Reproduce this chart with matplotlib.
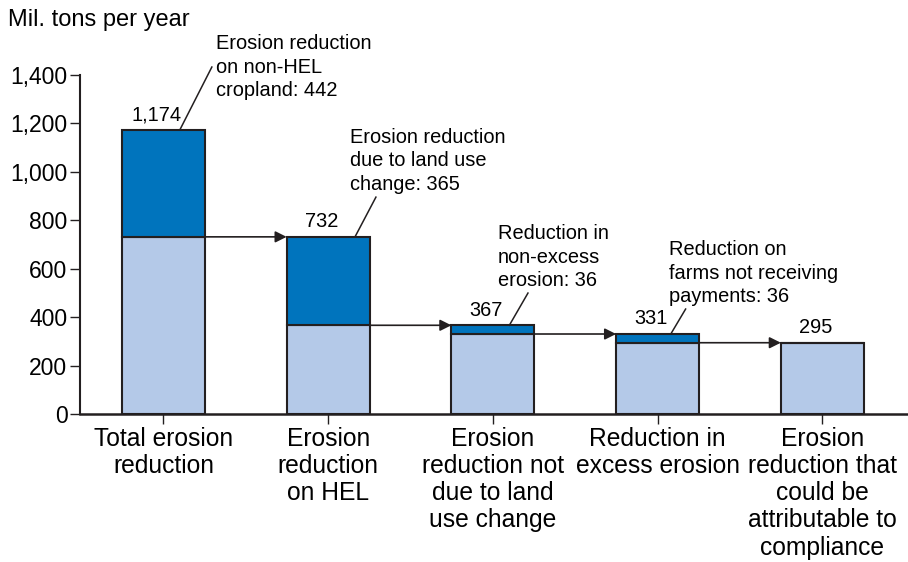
import matplotlib.pyplot as plt
from matplotlib.ticker import FuncFormatter

plt.rcParams['font.family'] = ['Liberation Sans', 'DejaVu Sans']

# Erosion reduction decomposition (mil. tons per year)
categories = ['Total erosion\nreduction', 'Erosion\nreduction\non HEL',
              'Erosion\nreduction not\ndue to land\nuse change',
              'Reduction in\nexcess erosion',
              'Erosion\nreduction that\ncould be\nattributable to\ncompliance']
totals = [1174, 732, 367, 331, 295]
removed = [442, 365, 36, 36, 0]
value_labels = ['1,174', '732', '367', '331', '295']
notes = ['Erosion reduction\non non-HEL\ncropland: 442',
         'Erosion reduction\ndue to land use\nchange: 365',
         'Reduction in\nnon-excess\nerosion: 36',
         'Reduction on\nfarms not receiving\npayments: 36']

dark = '#0074bd'
light = '#b4c9e8'
edge = '#231f20'

fig = plt.figure(figsize=(9.08, 5.62), dpi=100)
ax = fig.add_axes([0.088, 0.263, 0.912, 0.6035])

x = list(range(len(totals)))
base = [t - r for t, r in zip(totals, removed)]
w = 0.504
ax.bar(x, base, width=w, color=light, edgecolor=edge, linewidth=1.5, zorder=2)
ax.bar(x, removed, bottom=base, width=w, color=dark, edgecolor=edge,
       linewidth=1.5, zorder=2)

# value labels above bars
for i, (t, lab) in enumerate(zip(totals, value_labels)):
    ax.annotate(lab, xy=(i, t), xytext=(-5, 4), textcoords='offset points',
                ha='center', va='bottom', fontsize=14.4)

# arrows carrying the remaining part to the next bar
for i in range(len(totals) - 1):
    ax.annotate('', xy=(i + 1 - w / 2, totals[i + 1]), xytext=(i + w / 2, totals[i + 1]),
                arrowprops=dict(arrowstyle='-|>', color=edge, lw=1.2,
                                mutation_scale=17, shrinkA=0, shrinkB=0),
                zorder=3)

# leader lines and notes for the removed parts
leaders = [((0.10, 1174), (0.294, 1433)),
           ((1.163, 732), (1.29, 896)),
           ((2.10, 367), (2.213, 500)),
           ((3.08, 331), (3.17, 434))]
note_pos = [(0.319, 1568), (1.133, 1183), (2.031, 785), (3.07, 717)]
for (p0, p1), (tx, ty), txt in zip(leaders, note_pos, notes):
    ax.plot([p0[0], p1[0]], [p0[1], p1[1]], color=edge, lw=1.1, clip_on=False, zorder=3)
    ax.text(tx, ty, txt, ha='left', va='top', fontsize=14.4, linespacing=1.3)

ax.set_xlim(-0.507, 4.52)
ax.set_ylim(0, 1400)
ax.set_yticks(range(0, 1401, 200))
ax.yaxis.set_major_formatter(FuncFormatter(lambda v, p: f'{int(v):,}'))
ax.set_xticks(x)
ax.set_xticklabels(categories, fontsize=17.7, linespacing=1.17)
ax.tick_params(axis='y', labelsize=16.5, length=7, width=1.0, pad=2, color=edge)
ax.tick_params(axis='x', length=7, width=1.0, pad=2, color=edge)

for s in ['top', 'right']:
    ax.spines[s].set_visible(False)
ax.spines['left'].set_linewidth(1.5)
ax.spines['bottom'].set_linewidth(1.8)
ax.spines['left'].set_color(edge)
ax.spines['bottom'].set_color(edge)

fig.text(0.009, 0.944, 'Mil. tons per year', fontsize=17, ha='left', va='bottom')

fig.savefig('out.png', dpi=100)
